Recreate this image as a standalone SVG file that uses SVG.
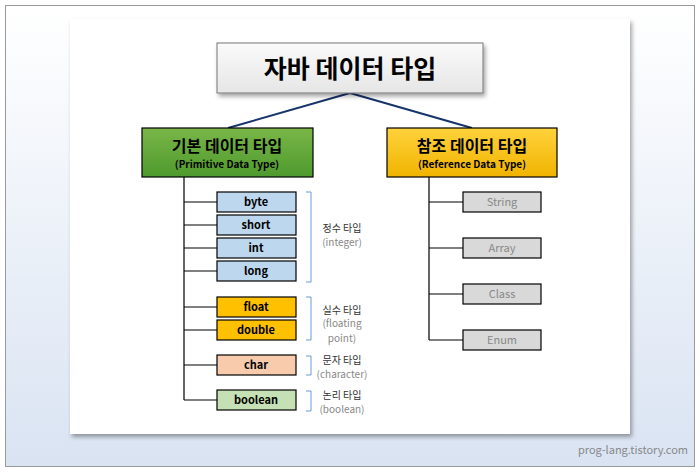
<svg xmlns="http://www.w3.org/2000/svg" width="700" height="472" viewBox="0 0 700 472">
<defs>
<linearGradient id="bg" x1="0" y1="0" x2="0" y2="1"><stop offset="0" stop-color="#ffffff"/><stop offset="1" stop-color="#d9e3f2"/></linearGradient>
<linearGradient id="gr" x1="0" y1="0" x2="0" y2="1"><stop offset="0" stop-color="#7ab648"/><stop offset="1" stop-color="#4e9a2e"/></linearGradient>
<linearGradient id="or" x1="0" y1="0" x2="0" y2="1"><stop offset="0" stop-color="#ffd23c"/><stop offset="1" stop-color="#f0b400"/></linearGradient>
<linearGradient id="tt" x1="0" y1="0" x2="0" y2="1"><stop offset="0" stop-color="#fafafa"/><stop offset="1" stop-color="#e6e6e6"/></linearGradient>
<filter id="sh" x="-10%" y="-10%" width="130%" height="140%"><feDropShadow dx="2" dy="3" stdDeviation="2" flood-opacity="0.35"/></filter>
</defs>
<style>
text{font-family:"Noto Sans CJK KR","Liberation Sans",sans-serif;text-anchor:middle}
.b{stroke:#000;stroke-width:1.2}
.t{font-size:11px;font-weight:bold;fill:#000}
.g{font-size:11px;fill:#888}
.lbl{font-size:10px;fill:#333}
.lg{font-size:10px;fill:#888}
.br{fill:none;stroke:#6a9ad0;stroke-width:1}
.c{stroke:#000;stroke-width:1.2;fill:none}
</style>
<rect x="5.5" y="5.5" width="689" height="461" fill="url(#bg)" stroke="#999"/>
<rect x="70" y="19" width="560" height="415" fill="#fff" filter="url(#sh)"/>
<g id="connectors">
<path d="M350 93 L228 128 M350 93 L472 128" stroke="#17336b" stroke-width="2" fill="none"/>
<path class="c" d="M184 177 V400 M184 202 H217 M184 225 H217 M184 248 H217 M184 271 H217 M184 307 H217 M184 330 H217 M184 365 H217 M184 400 H217"/>
<path class="c" d="M429 177 V340 M429 202 H463 M429 248 H463 M429 294 H463 M429 340 H463"/>
</g>
<g id="root"><rect x="217" y="43" width="266" height="50" fill="url(#tt)" stroke="#777" filter="url(#sh)"/><text x="350" y="78" font-size="25" font-weight="bold">자바 데이터 타입</text></g>
<g id="primitive"><rect class="b" x="142" y="128" width="171" height="49" fill="url(#gr)"/><text x="227" y="152" font-size="16" font-weight="bold">기본 데이터 타입</text><text x="227" y="168" font-size="10" font-weight="bold">(Primitive Data Type)</text></g>
<g id="reference"><rect class="b" x="387" y="128" width="170" height="49" fill="url(#or)"/><text x="472" y="152" font-size="16" font-weight="bold">참조 데이터 타입</text><text x="472" y="168" font-size="10" font-weight="bold">(Reference Data Type)</text></g>
<g id="byte"><rect class="b" x="217" y="192" width="79" height="20" fill="#bdd7ee"/><text class="t" x="256" y="206">byte</text></g>
<g id="short"><rect class="b" x="217" y="215" width="79" height="20" fill="#bdd7ee"/><text class="t" x="256" y="229">short</text></g>
<g id="int"><rect class="b" x="217" y="238" width="79" height="20" fill="#bdd7ee"/><text class="t" x="256" y="252">int</text></g>
<g id="long"><rect class="b" x="217" y="261" width="79" height="20" fill="#bdd7ee"/><text class="t" x="256" y="275">long</text></g>
<g id="float"><rect class="b" x="217" y="297" width="79" height="20" fill="#ffc000"/><text class="t" x="256" y="311">float</text></g>
<g id="double"><rect class="b" x="217" y="320" width="79" height="20" fill="#ffc000"/><text class="t" x="256" y="334">double</text></g>
<g id="char"><rect class="b" x="217" y="355" width="79" height="20" fill="#f8cbad"/><text class="t" x="256" y="369">char</text></g>
<g id="boolean"><rect class="b" x="217" y="390" width="79" height="20" fill="#c5e0b4"/><text class="t" x="256" y="404">boolean</text></g>
<g id="String"><rect class="b" x="463" y="192" width="78" height="20" fill="#d9d9d9"/><text class="g" x="502" y="206">String</text></g>
<g id="Array"><rect class="b" x="463" y="238" width="78" height="20" fill="#d9d9d9"/><text class="g" x="502" y="252">Array</text></g>
<g id="Class"><rect class="b" x="463" y="284" width="78" height="20" fill="#d9d9d9"/><text class="g" x="502" y="298">Class</text></g>
<g id="Enum"><rect class="b" x="463" y="330" width="78" height="20" fill="#d9d9d9"/><text class="g" x="502" y="344">Enum</text></g>
<g id="brackets">
<path class="br" d="M306 192 H311 V282 H306 M306 297 H311 V340 H306 M306 356 H311 V375 H306 M306 391 H311 V411 H306"/>
<text class="lbl" x="342" y="232">정수 타입</text><text class="lg" x="342" y="246">(integer)</text>
<text class="lbl" x="342" y="314">실수 타입</text><text class="lg" x="342" y="327">(floating</text><text class="lg" x="342" y="342">point)</text>
<text class="lbl" x="342" y="364">문자 타입</text><text class="lg" x="342" y="378">(character)</text>
<text class="lbl" x="342" y="399">논리 타입</text><text class="lg" x="342" y="413">(boolean)</text>
</g>
<text x="633" y="454" font-size="11" fill="#888">prog-lang.tistory.com</text>
</svg>
